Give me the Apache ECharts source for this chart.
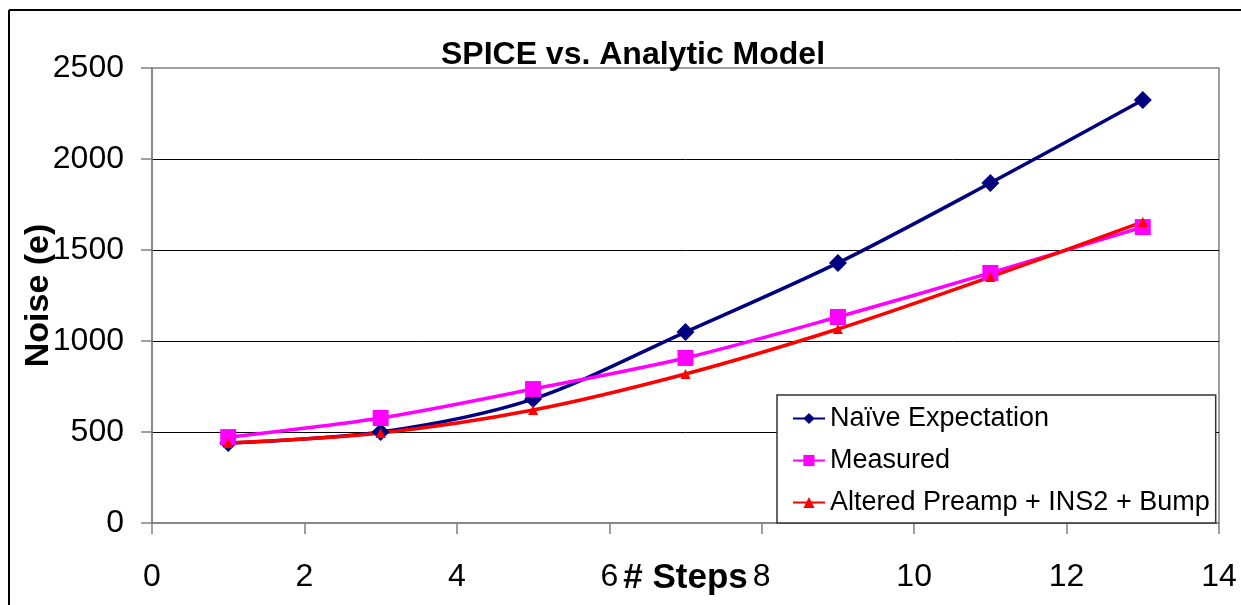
<!DOCTYPE html>
<html>
<head>
<meta charset="utf-8">
<script src="https://cdn.jsdelivr.net/npm/echarts@6/dist/echarts.min.js"></script>
<style>
html,body{margin:0;padding:0;background:#fff;}
#chart{width:1241px;height:605px;}
</style>
</head>
<body>
<div id="chart"></div>
<script>
var steps = [1, 3, 5, 7, 9, 11, 13];
var naive = [440, 500, 681, 1049, 1429, 1868, 2324];
var measured = [472, 577, 736, 907, 1132, 1374, 1626];
var altered = [440, 495, 621, 819, 1066, 1352, 1654];
var seriesNames = ['Naïve Expectation', 'Measured', 'Altered Preamp + INS2 + Bump'];
var titleText = 'SPICE vs. Analytic Model';
var xName = '# Steps';
var yName = 'Noise (e)';

function pairs(vals) { return steps.map(function (s, i) { return [s, vals[i]]; }); }

var FONT = "'Liberation Sans', Arial, sans-serif";
var chart = echarts.init(document.getElementById('chart'), null, {renderer: 'canvas'});
chart.setOption({
  backgroundColor: '#ffffff',
  animation: false,
  textStyle: {fontFamily: FONT},
  title: {
    text: titleText,
    left: 628, top: 34, textAlign: 'center',
    textStyle: {fontFamily: FONT, fontWeight: 'bold', fontSize: 32, color: '#000'}
  },
  grid: {left: 152, right: 22, top: 68, bottom: 82, containLabel: false, outerBoundsMode: 'none',
         show: true, borderColor: '#808080', borderWidth: 1.5, backgroundColor: 'transparent'},
  xAxis: {
    type: 'value', min: 0, max: 14, interval: 2,
    name: xName, nameLocation: 'middle', nameGap: 38, nameMoveOverlap: false,
    nameTextStyle: {fontFamily: FONT, fontWeight: 'bold', fontSize: 35, color: '#000'},
    axisLine: {show: true, lineStyle: {color: '#808080', width: 1.5}},
    axisTick: {show: true, inside: false, length: 11, lineStyle: {color: '#808080', width: 1.5}},
    axisLabel: {fontFamily: FONT, fontSize: 32, color: '#000', margin: 38},
    splitLine: {show: false}
  },
  yAxis: {
    type: 'value', min: 0, max: 2500, interval: 500,
    name: yName, nameLocation: 'middle', nameGap: 96, nameMoveOverlap: false,
    nameTextStyle: {fontFamily: FONT, fontWeight: 'bold', fontSize: 34, color: '#000'},
    axisLine: {show: true, lineStyle: {color: '#808080', width: 1.5}},
    axisTick: {show: true, inside: false, length: 11, lineStyle: {color: '#808080', width: 1.5}},
    axisLabel: {fontFamily: FONT, fontSize: 32, color: '#000', margin: 28,
                formatter: function (v) { return String(v); }},
    splitLine: {show: true, showMinLine: false, showMaxLine: false, lineStyle: {color: '#000', width: 1}}
  },
  legend: {
    orient: 'vertical',
    left: 777, top: 395,
    padding: [10, 6, 7, 15],
    itemGap: 15,
    itemWidth: 32, itemHeight: 14,
    backgroundColor: '#fff',
    borderColor: '#333', borderWidth: 1.5,
    textStyle: {fontFamily: FONT, fontSize: 27, color: '#000'},
    data: seriesNames
  },
  series: [
    {name: seriesNames[0], type: 'line', data: pairs(naive), smooth: 0.3,
     symbol: 'diamond', symbolSize: 18, itemStyle: {color: '#000080'},
     lineStyle: {color: '#000080', width: 3.5}},
    {name: seriesNames[1], type: 'line', data: pairs(measured), smooth: 0.3,
     symbol: 'rect', symbolSize: 16, itemStyle: {color: '#FF00FF'},
     lineStyle: {color: '#FF00FF', width: 3.5}},
    {name: seriesNames[2], type: 'line', data: pairs(altered), smooth: 0.3,
     symbol: 'triangle', symbolSize: 10, itemStyle: {color: '#FF0000'},
     lineStyle: {color: '#FF0000', width: 3.5}}
  ],
  graphic: [
    {type: 'line', shape: {x1: 9, y1: 10, x2: 1241, y2: 10}, style: {stroke: '#000', lineWidth: 2}, silent: true},
    {type: 'line', shape: {x1: 9, y1: 10, x2: 9, y2: 605}, style: {stroke: '#000', lineWidth: 2}, silent: true}
  ]
});
</script>
</body>
</html>
